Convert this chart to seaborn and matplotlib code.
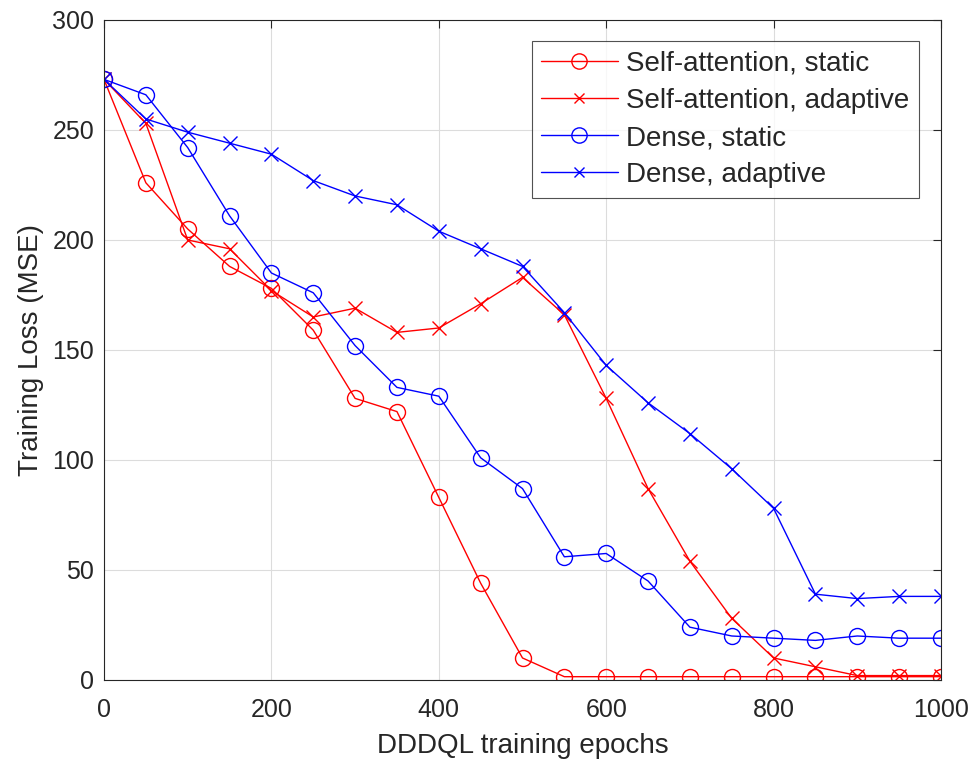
import numpy as np
import pandas as pd
import matplotlib
matplotlib.use("Agg")
import matplotlib.pyplot as plt
import seaborn as sns

epochs = list(range(0, 1001, 50))

sa_static = [273, 226, 205, 188, 178, 159, 128, 122, 83, 44, 10,
             1.5, 1.5, 1.5, 1.5, 1.5, 1.5, 1.5, 1.5, 1.5, 1.5]
sa_adaptive = [273, 253, 200, 196, 177, 165, 169, 158, 160, 171, 183,
               166, 128, 87, 54, 28, 10, 6, 2, 2, 2]
dense_static = [273, 266, 242, 211, 185, 176, 152, 133, 129, 101, 87,
                56, 57.5, 45, 24, 20, 19, 18, 20, 19, 19]
dense_adaptive = [273, 255, 249, 244, 239, 227, 220, 216, 204, 196, 188,
                  167, 143, 126, 112, 96, 78, 39, 37, 38, 38]

series = [
    ("Self-attention, static", sa_static, "#ff0000", "o"),
    ("Self-attention, adaptive", sa_adaptive, "#ff0000", "x"),
    ("Dense, static", dense_static, "#0000ff", "o"),
    ("Dense, adaptive", dense_adaptive, "#0000ff", "x"),
]

sns.set_style("white")
plt.rcParams['font.family'] = ['Liberation Sans', 'DejaVu Sans']

fig = plt.figure(figsize=(9.73, 7.63), dpi=100)
ax = fig.add_axes([0.1069, 0.1088, 0.8602, 0.865])

for name, vals, color, mk in series:
    df = pd.DataFrame({"epoch": epochs, "loss": vals})
    sns.lineplot(data=df, x="epoch", y="loss", ax=ax, color=color,
                 marker=mk, markersize=11.5 if mk == "o" else 10,
                 markerfacecolor="none", markeredgecolor=color,
                 markeredgewidth=1.0, linewidth=1.0, label=name)

ax.set_xlim(0, 1000)
ax.set_ylim(0, 300)
ax.set_xticks(range(0, 1001, 200))
ax.set_yticks(range(0, 301, 50))
ax.grid(True, color="#dcdcdc", linewidth=0.8)
ax.tick_params(direction="in", length=6, labelsize=18, top=True, right=True,
               colors="#262626", labelcolor="#262626")
ax.tick_params(axis="x", pad=13)
ax.tick_params(axis="y", pad=7)
for s in ax.spines.values():
    s.set_color("#262626")
    s.set_linewidth(0.8)
ax.set_xlabel("DDDQL training epochs", fontsize=20, color="#262626", labelpad=8)
ax.set_ylabel("Training Loss (MSE)", fontsize=20, color="#262626", labelpad=6)

leg = ax.legend(loc="upper right", fontsize=20, frameon=True, fancybox=False,
                edgecolor="#262626", borderpad=0.35, labelspacing=0.4,
                handlelength=2.75, handletextpad=0.3, borderaxespad=0,
                bbox_to_anchor=(0.9737, 0.968))
leg.get_frame().set_linewidth(0.8)
for h, (_, _, _, mk) in zip(leg.legend_handles, series):
    h.set_markersize(11 if mk == "o" else 7)

fig.savefig("out.png", dpi=100)
